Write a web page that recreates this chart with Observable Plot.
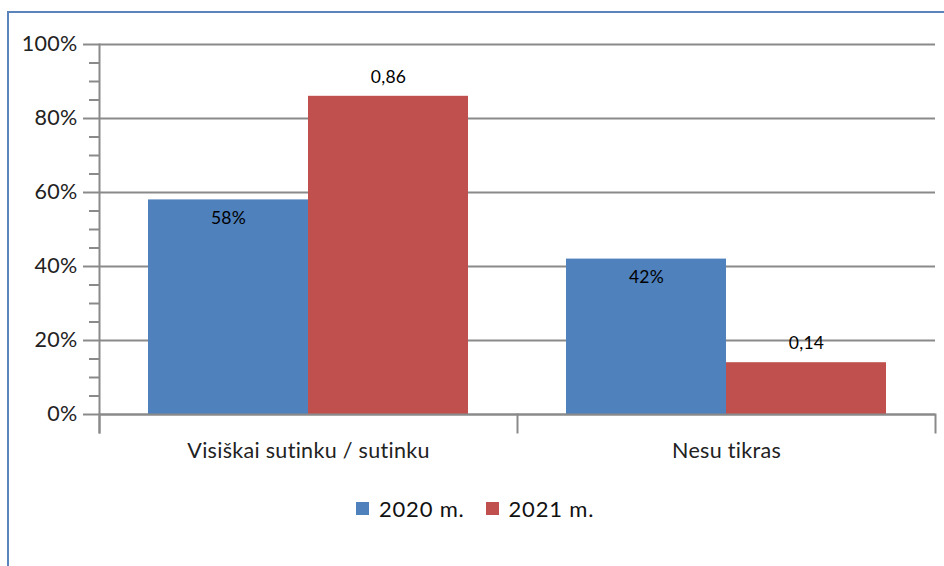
<!DOCTYPE html>
<html>
<head>
<meta charset="utf-8">
<script src="https://cdn.jsdelivr.net/npm/d3@7"></script>
<script src="https://cdn.jsdelivr.net/npm/@observablehq/plot@0.6"></script>
<style>
  html, body { margin: 0; padding: 0; background: #fff; }
  #wrap { position: relative; width: 944px; height: 566px; overflow: hidden; font-family: Lato, "Open Sans", sans-serif; }
  #border { position: absolute; left: 7px; top: 11px; width: 960px; height: 600px; border-top: 2px solid #5b84bd; border-left: 2px solid #5b84bd; box-sizing: border-box; }
  #chart { position: absolute; left: 0; top: 0; }
  #legend { position: absolute; left: 356px; top: 495px; display: flex; align-items: center; font-size: 22px; letter-spacing: 0.8px; color: #111; }
  .sw { width: 13px; height: 13px; display: inline-block; margin-right: 10px; }
  .item { display: flex; align-items: center; margin-right: 21px; }
</style>
</head>
<body>
<div id="wrap">
  <div id="border"></div>
  <div id="chart"></div>
  <div id="legend"></div>
</div>
<script>
const categories = ["Visiškai sutinku / sutinku", "Nesu tikras"];
const years = ["2020 m.", "2021 m."];
const values2020 = [0.58, 0.42];
const values2021 = [0.86, 0.14];
const labels2020 = ["58%", "42%"];
const labels2021 = ["0,86", "0,14"];
const colors = ["#4f81bd", "#c0504d"];
const majorTicks = [0, 0.2, 0.4, 0.6, 0.8, 1.0];
const minorTicks = d3.range(0, 21).map(i => i * 0.05).filter(v => Math.round(v * 100) % 20 !== 0);

const d2020 = categories.map((c, i) => ({cat: c, year: years[0], value: values2020[i], label: labels2020[i]}));
const d2021 = categories.map((c, i) => ({cat: c, year: years[1], value: values2021[i], label: labels2021[i]}));
const data = d2020.concat(d2021);

const axisColor = "#8a8a8a";
const font = "Lato, 'Open Sans', sans-serif";

const chart = Plot.plot({
  width: 944,
  height: 480,
  marginTop: 44,
  marginBottom: 66,
  marginLeft: 98,
  marginRight: 9,
  style: {fontFamily: font, color: "#111", background: "transparent", overflow: "visible"},
  fx: {domain: categories, paddingInner: 0, paddingOuter: 0, label: null},
  x: {domain: years, paddingInner: 0, paddingOuter: 0.3, axis: null},
  y: {domain: [0, 1], label: null},
  color: {domain: years, range: colors},
  marks: [
    Plot.ruleY(majorTicks, {stroke: axisColor, strokeWidth: 2}),
    Plot.barY(data, {fx: "cat", x: "year", y: "value", fill: "year"}),
    Plot.ruleY([0], {stroke: axisColor, strokeWidth: 2}),
    Plot.axisY({ticks: minorTicks, tickSize: 10, tickFormat: () => "", stroke: axisColor, strokeWidth: 2, label: null}),
    Plot.axisY({ticks: majorTicks, tickSize: 16, tickPadding: 6, tickFormat: ".0%", stroke: axisColor, strokeWidth: 2, fontSize: 21.5, fill: "#222", label: null}),
    Plot.frame({anchor: "left", facetAnchor: "left", insetBottom: -18, stroke: axisColor, strokeWidth: 2}),
    Plot.frame({anchor: "left", insetTop: 370, insetBottom: -18, stroke: axisColor, strokeWidth: 2}),
    Plot.frame({anchor: "right", facetAnchor: "right", insetTop: 370, insetBottom: -18, stroke: axisColor, strokeWidth: 2}),
    Plot.axisFx({anchor: "bottom", tickSize: 0, tickPadding: 28, fontSize: 21.5, fill: "#222", label: null}),
    Plot.text(d2020, {fx: "cat", x: "year", y: "value", text: "label", dy: 18, fontSize: 17.5, fill: "#000", style: "letter-spacing:0.5px"}),
    Plot.text(d2021, {fx: "cat", x: "year", y: "value", text: "label", dy: -19, fontSize: 17.5, fill: "#000"})
  ]
});
document.getElementById("chart").appendChild(chart);
chart.querySelectorAll("text").forEach(t => t.setAttribute("letter-spacing", "0.3"));

const legend = document.getElementById("legend");
years.forEach((y, i) => {
  const item = document.createElement("div");
  item.className = "item";
  const sw = document.createElement("span");
  sw.className = "sw";
  sw.style.background = colors[i];
  const t = document.createElement("span");
  t.textContent = y;
  item.appendChild(sw);
  item.appendChild(t);
  legend.appendChild(item);
});
</script>
</body>
</html>
